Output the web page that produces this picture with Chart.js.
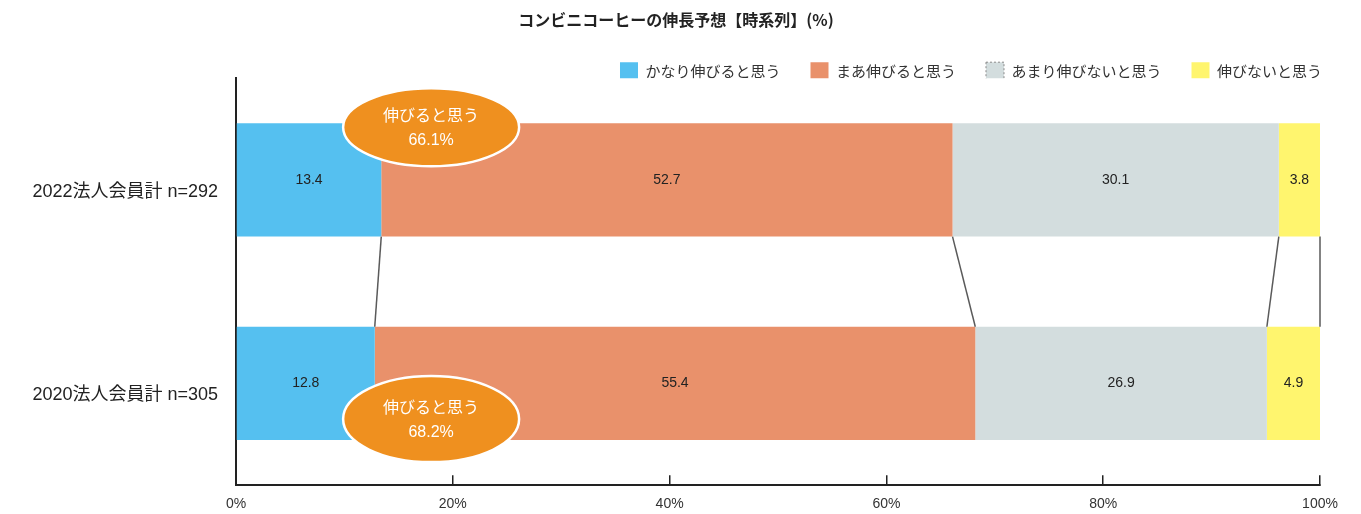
<!DOCTYPE html>
<html lang="ja">
<head>
<meta charset="utf-8">
<title>コンビニコーヒーの伸長予想</title>
<script src="https://cdn.jsdelivr.net/npm/chart.js@4/dist/chart.umd.min.js"></script>
<style>
  html, body { margin: 0; padding: 0; background: #fff; }
  #wrap { width: 1361px; height: 514px; position: relative; }
</style>
</head>
<body>
<div id="wrap"><canvas id="coffeeChart"></canvas></div>
<script>
// ---------- Data ----------
const categories = ['2022法人会員計 n=292', '2020法人会員計 n=305'];
const seriesNames = ['かなり伸びると思う', 'まあ伸びると思う', 'あまり伸びないと思う', '伸びないと思う'];
const muchGrow = [13.4, 12.8];
const someGrow = [52.7, 55.4];
const littleGrow = [30.1, 26.9];
const noGrow = [3.8, 4.9];
const growTotals = [66.1, 68.2];
const xTicks = [0, 20, 40, 60, 80, 100];

const FONT = "'Liberation Sans', 'Noto Sans CJK JP', sans-serif";
const JP_FONT = "'Noto Sans CJK JP', 'Noto Sans', sans-serif";
const colors = ['#55C0F0', '#E9916B', '#D3DDDE', '#FFF56E'];

// ---------- Helper plugins ----------
// value text in the middle of every bar segment
const valueLabels = {
  id: 'valueLabels',
  afterDatasetsDraw(chart) {
    const ctx = chart.ctx;
    ctx.save();
    ctx.font = '14px ' + FONT;
    ctx.fillStyle = '#222';
    ctx.textAlign = 'center';
    ctx.textBaseline = 'middle';
    chart.data.datasets.forEach((ds, i) => {
      chart.getDatasetMeta(i).data.forEach((bar, j) => {
        const p = bar.getProps(['x', 'y', 'base'], true);
        ctx.fillText(ds.data[j].toFixed(1), (p.x + p.base) / 2, p.y);
      });
    });
    ctx.restore();
  }
};

// lines linking the segment edges of the two bars
const connectors = {
  id: 'connectors',
  afterDatasetsDraw(chart) {
    const ctx = chart.ctx;
    ctx.save();
    ctx.strokeStyle = '#5a5a5a';
    ctx.lineWidth = 1.5;
    chart.data.datasets.forEach((ds, i) => {
      const bars = chart.getDatasetMeta(i).data;
      const a = bars[0].getProps(['x', 'y', 'height'], true);
      const b = bars[1].getProps(['x', 'y', 'height'], true);
      ctx.beginPath();
      ctx.moveTo(a.x, a.y + a.height / 2);
      ctx.lineTo(b.x, b.y - b.height / 2);
      ctx.stroke();
    });
    ctx.restore();
  }
};

// orange "伸びると思う" bubbles (top edge of first bar, bottom edge of second)
const bubbleCfg = [
  { at: 18, edge: 'top', shift: 4, rx: 88, ry: 39 },
  { at: 18, edge: 'bottom', shift: -21, rx: 88, ry: 43 }
];
const bubbles = {
  id: 'bubbles',
  afterDatasetsDraw(chart) {
    const ctx = chart.ctx;
    const xs = chart.scales.x;
    const bars = chart.getDatasetMeta(0).data;
    ctx.save();
    bubbleCfg.forEach((cfg, j) => {
      const p = bars[j].getProps(['y', 'height'], true);
      const cx = xs.getPixelForValue(cfg.at);
      const edgeY = cfg.edge === 'top' ? p.y - p.height / 2 : p.y + p.height / 2;
      const cy = edgeY + cfg.shift;
      ctx.beginPath();
      ctx.ellipse(cx, cy, cfg.rx, cfg.ry, 0, 0, Math.PI * 2);
      ctx.fillStyle = '#EF901F';
      ctx.fill();
      ctx.lineWidth = 2.5;
      ctx.strokeStyle = '#ffffff';
      ctx.stroke();
      ctx.fillStyle = '#ffffff';
      ctx.textAlign = 'center';
      ctx.textBaseline = 'middle';
      ctx.font = '16px ' + JP_FONT;
      ctx.fillText('伸びると思う', cx, cy - 12);
      ctx.font = '16px ' + FONT;
      ctx.fillText(growTotals[j].toFixed(1) + '%', cx, cy + 13);
    });
    ctx.restore();
  }
};

// ---------- Chart ----------
const seriesData = [muchGrow, someGrow, littleGrow, noGrow];

new Chart(document.getElementById('coffeeChart'), {
  type: 'bar',
  data: {
    labels: categories,
    datasets: seriesNames.map((name, i) => ({
      label: name,
      data: seriesData[i],
      backgroundColor: colors[i],
      borderWidth: 0,
      barPercentage: 0.557,
      categoryPercentage: 1
    }))
  },
  options: {
    indexAxis: 'y',
    responsive: true,
    maintainAspectRatio: false,
    animation: false,
    layout: { padding: { left: 0, right: 9, top: 0, bottom: 0 } },
    plugins: {
      title: {
        display: true,
        text: 'コンビニコーヒーの伸長予想【時系列】(%)',
        color: '#222',
        font: { family: JP_FONT, size: 16, weight: 'bold' },
        padding: { top: 10, bottom: 3 }
      },
      legend: {
        position: 'top',
        align: 'end',
        maxHeight: 46,
        labels: {
          color: '#333',
          font: { family: JP_FONT, size: 15 },
          boxWidth: 18,
          boxHeight: 19,
          padding: 30,
          generateLabels(chart) {
            const items = Chart.defaults.plugins.legend.labels.generateLabels(chart);
            items.forEach((it, i) => {
              it.lineWidth = i === 2 ? 1 : 0;
              it.strokeStyle = '#8a8a8a';
              it.lineDash = i === 2 ? [2, 2] : [];
            });
            return items;
          }
        }
      },
      tooltip: { enabled: false }
    },
    scales: {
      x: {
        stacked: true,
        min: 0,
        max: 100,
        afterBuildTicks(scale) {
          scale.ticks = xTicks.map(v => ({ value: v }));
        },
        afterFit(scale) { scale.height = 27; },
        ticks: {
          color: '#333',
          font: { family: FONT, size: 14 },
          padding: 21,
          callback: v => v + '%'
        },
        grid: { drawOnChartArea: false, drawTicks: true, tickLength: -10, color: '#222', lineWidth: 1.5 },
        border: { display: true, color: '#222', width: 2 }
      },
      y: {
        stacked: true,
        afterFit(scale) { scale.width = 236; },
        ticks: {
          color: '#222',
          font: { family: FONT, size: 18 },
          padding: 18,
          labelOffset: 12
        },
        grid: { drawOnChartArea: false, drawTicks: false },
        border: { display: true, color: '#222', width: 2 }
      },
      yR: {
        type: 'linear',
        axis: 'y',
        position: 'right',
        display: true,
        afterFit(scale) { scale.width = 32; },
        ticks: { display: false },
        grid: { display: false, drawTicks: false },
        border: { display: false }
      }
    }
  },
  plugins: [connectors, valueLabels, bubbles]
});
</script>
</body>
</html>
